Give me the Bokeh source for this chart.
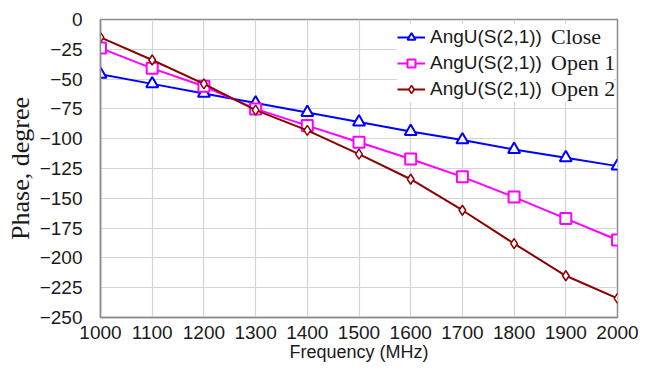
from bokeh.plotting import figure
from bokeh.models import Legend, LegendItem, FixedTicker
from bokeh.embed import file_html
from bokeh.resources import INLINE

freq = [1000, 1100, 1200, 1300, 1400, 1500, 1600, 1700, 1800, 1900, 2000]
close = [-46, -54, -62, -70, -78, -86, -94, -101, -109, -116, -123]
open1 = [-24, -41, -56, -75, -89, -103, -117, -132, -149, -167, -185]
open2 = [-15, -34, -54, -76, -93, -113, -134, -160, -188, -215, -234]
x_ticks = [1000, 1100, 1200, 1300, 1400, 1500, 1600, 1700, 1800, 1900, 2000]
y_ticks = [0, -25, -50, -75, -100, -125, -150, -175, -200, -225, -250]
label_prefix = "AngU(S(2,1))"
label_suffix = ["Close", "Open 1", "Open 2"]
x_title = "Frequency (MHz)"
y_title = "Phase, degree"

p = figure(frame_width=517, frame_height=298, output_backend="svg", toolbar_location=None,
           x_range=(1000, 2000), y_range=(-250, 0),
           min_border_left=100, min_border_right=22, min_border_top=19, min_border_bottom=50)

p.outline_line_color = "#8c8c8c"
p.outline_line_width = 1.5
for ax in (p.xaxis[0], p.yaxis[0]):
    ax.axis_line_color = "#8c8c8c"
    ax.axis_line_width = 1.5
    ax.major_tick_line_color = None
    ax.minor_tick_line_color = None
    ax.major_tick_out = 0
    ax.major_tick_in = 0
    ax.major_label_text_font = "Liberation Sans"
    ax.major_label_text_font_size = "19px"
    ax.major_label_text_color = "#1a1a1a"

p.xaxis.ticker = FixedTicker(ticks=x_ticks)
p.yaxis.ticker = FixedTicker(ticks=y_ticks)
p.xaxis.major_label_standoff = 8
p.yaxis.major_label_standoff = 18
p.xgrid.grid_line_color = "#d4d4d4"
p.ygrid.grid_line_color = "#d4d4d4"
p.xgrid.grid_line_width = 1.2
p.ygrid.grid_line_width = 1.2

p.xaxis.axis_label = x_title
p.xaxis.axis_label_text_font = "Liberation Sans"
p.xaxis.axis_label_text_font_size = "18px"
p.xaxis.axis_label_text_font_style = "normal"
p.xaxis.axis_label_text_color = "#1a1a1a"
p.xaxis.axis_label_standoff = 0

p.yaxis.axis_label = y_title
p.yaxis.axis_label_text_font = "Liberation Serif"
p.yaxis.axis_label_text_font_size = "26px"
p.yaxis.axis_label_text_font_style = "normal"
p.yaxis.axis_label_text_color = "#1a1a1a"
p.yaxis.axis_label_standoff = 2

l1 = p.line(freq, close, line_color="#0000ff", line_width=2)
m1 = p.scatter(freq, close, marker="triangle", size=12, line_color="#0000ff", fill_color="white", line_width=2)
l2 = p.line(freq, open1, line_color="#ff00ff", line_width=2)
m2 = p.scatter(freq, open1, marker="square", size=11, line_color="#ff00ff", fill_color="white", line_width=2)
l3 = p.line(freq, open2, line_color="#8b0000", line_width=2)
m3 = p.scatter(freq, open2, marker="diamond", size=10, line_color="#8b0000", fill_color="white", line_width=1.5)

legend1 = Legend(items=[LegendItem(label=label_prefix, renderers=[l1, m1]),
                        LegendItem(label=label_prefix, renderers=[l2, m2]),
                        LegendItem(label=label_prefix, renderers=[l3, m3])],
                 location=(297, 215), label_text_font="Liberation Sans", label_text_font_size="19px",
                 label_text_color="#1a1a1a",
                 background_fill_color="white", background_fill_alpha=1, border_line_color=None,
                 glyph_width=28, glyph_height=20, label_height=26, spacing=0, label_standoff=5,
                 padding=4, margin=0, label_width=184)
p.add_layout(legend1)

d1 = p.line([], [], line_alpha=0)
d2 = p.line([], [], line_alpha=0)
d3 = p.line([], [], line_alpha=0)
legend2 = Legend(items=[LegendItem(label=label_suffix[0], renderers=[d1]),
                        LegendItem(label=label_suffix[1], renderers=[d2]),
                        LegendItem(label=label_suffix[2], renderers=[d3])],
                 location=(451, 215), label_text_font="Liberation Serif", label_text_font_size="22px",
                 label_text_color="#1a1a1a",
                 background_fill_alpha=0, border_line_color=None,
                 glyph_width=0, glyph_height=20, label_height=26, spacing=0, label_standoff=0,
                 padding=4, margin=0)
p.add_layout(legend2)

open("out.html", "w").write(file_html(p, INLINE))
